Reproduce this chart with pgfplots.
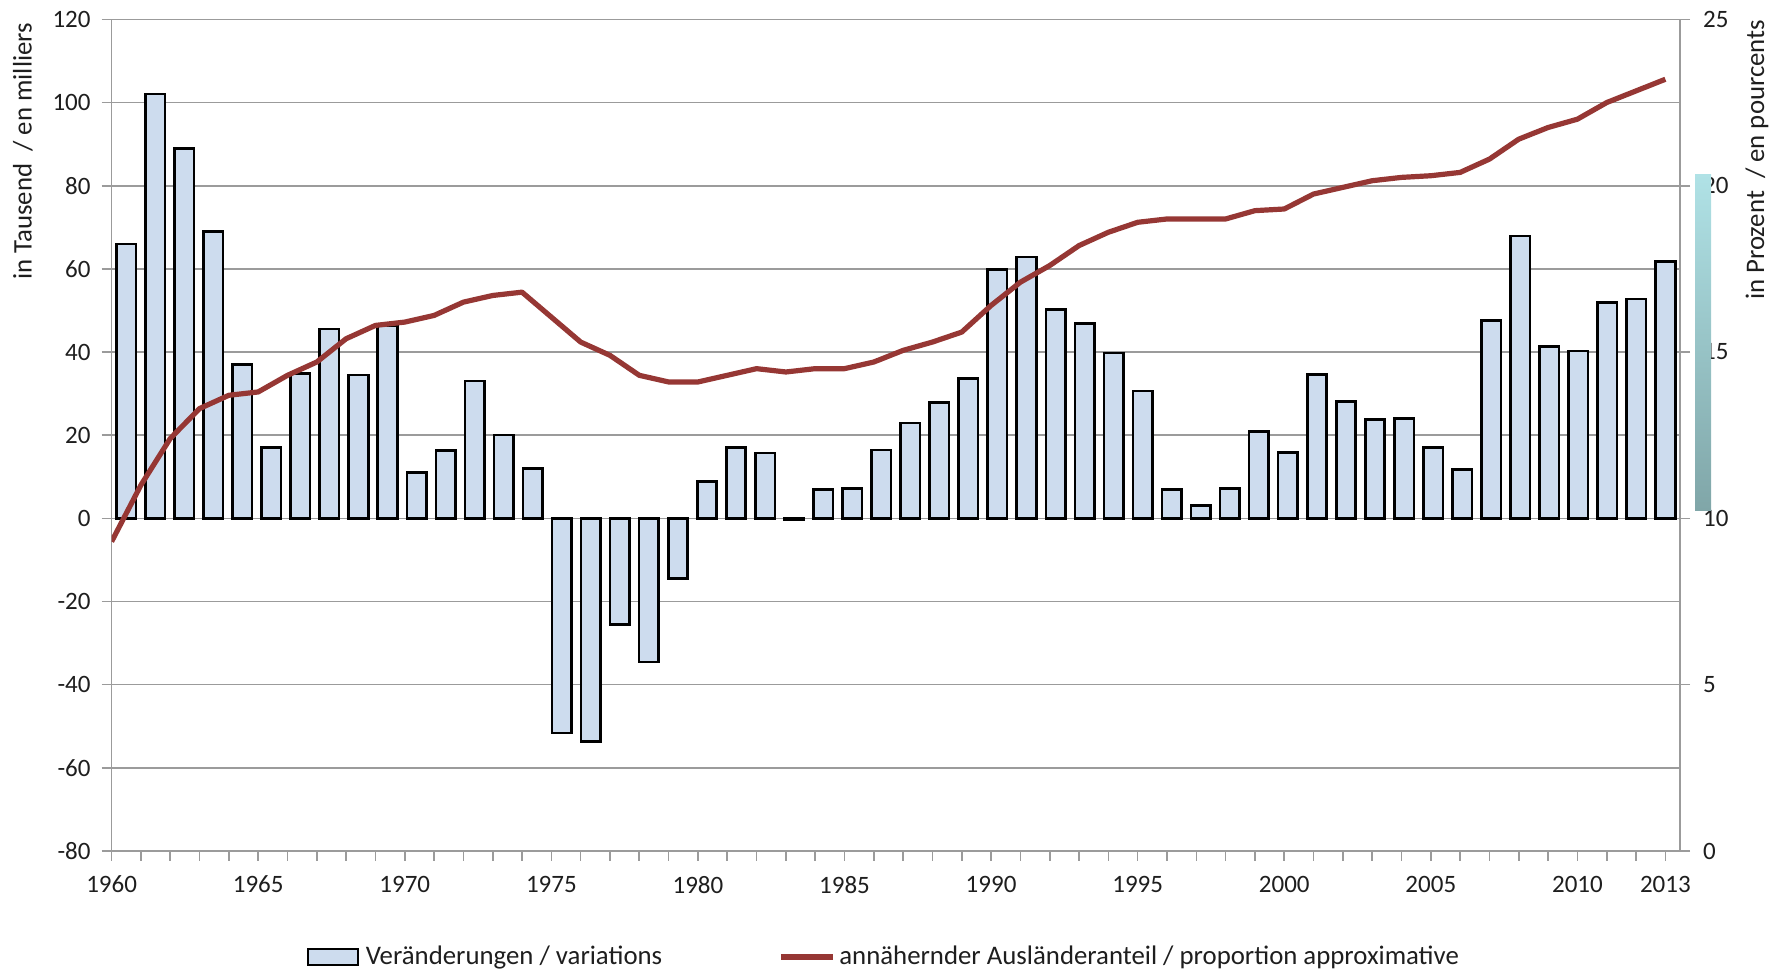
\documentclass[border=0pt]{standalone}
\usepackage{pgfplots}
\usepackage{pgfplotstable}
\pgfplotsset{compat=1.18}
\usepackage{fontspec}
\setmainfont{Carlito}
\definecolor{barfill}{RGB}{205,220,238}
\definecolor{linered}{RGB}{150,55,52}
\definecolor{gridgray}{RGB}{155,155,155}
\definecolor{txt}{RGB}{30,30,30}
\pgfplotsset{
  barleg/.style={legend image code/.code={\draw[fill=barfill, draw=black, line width=1.2pt] (0pt,-4pt) rectangle (25pt,4pt); \path[draw=none, fill=none] (0pt,-0.1pt) rectangle (27pt,0.1pt);}},
  lineleg/.style={legend image code/.code={\draw[linered, line width=2.6pt] (0pt,0pt) -- (26pt,0pt); \path[draw=none, fill=none] (0pt,-0.1pt) rectangle (27pt,0.1pt);}}
}

\pgfplotstableread{
year val
1960 66.0
1961 102.1
1962 89.0
1963 69.0
1964 37.0
1965 17.0
1966 34.8
1967 45.5
1968 34.5
1969 46.4
1970 11.0
1971 16.3
1972 33.0
1973 20.0
1974 12.0
1975 -51.6
1976 -53.7
1977 -25.6
1978 -34.5
1979 -14.4
1980 8.9
1981 17.0
1982 15.7
1983 -0.4
1984 6.9
1985 7.2
1986 16.4
1987 22.9
1988 27.9
1989 33.7
1990 59.8
1991 62.9
1992 50.3
1993 46.8
1994 39.8
1995 30.6
1996 6.9
1997 3.1
1998 7.2
1999 20.9
2000 15.9
2001 34.6
2002 28.1
2003 23.8
2004 24.0
2005 17.0
2006 11.8
2007 47.6
2008 67.9
2009 41.4
2010 40.2
2011 51.9
2012 52.8
2013 61.7
}\bars

\pgfplotstableread{
year pct
1960 9.3
1961 11.0
1962 12.4
1963 13.3
1964 13.7
1965 13.8
1966 14.3
1967 14.7
1968 15.4
1969 15.8
1970 15.9
1971 16.1
1972 16.5
1973 16.7
1974 16.8
1975 16.05
1976 15.3
1977 14.9
1978 14.3
1979 14.1
1980 14.1
1981 14.3
1982 14.5
1983 14.4
1984 14.5
1985 14.5
1986 14.7
1987 15.05
1988 15.3
1989 15.6
1990 16.4
1991 17.1
1992 17.6
1993 18.2
1994 18.6
1995 18.9
1996 19.0
1997 19.0
1998 19.0
1999 19.25
2000 19.3
2001 19.75
2002 19.95
2003 20.15
2004 20.25
2005 20.3
2006 20.4
2007 20.8
2008 21.4
2009 21.75
2010 22.0
2011 22.5
2012 22.85
2013 23.2
}\share

\begin{document}
\begin{tikzpicture}[font=\fontsize{12.5}{15}\selectfont]
\begin{axis}[
  name=ax1,
  scale only axis, width=784.2pt, height=415.8pt,
  xmin=1959.5, xmax=2013.5, ymin=-80, ymax=120,
  ytick={-80,-60,-40,-20,0,20,40,60,80,100,120},
  ymajorgrids, grid style={gridgray, line width=0.8pt},
  axis x line*=bottom, axis y line*=left,
  axis line style={gridgray, line width=0.8pt},
  xtick=\empty,
  tick align=outside, major tick length=5pt,
  tick style={gridgray, line width=0.8pt},
  /pgf/number format/assume math mode=true,
  yticklabel style={text=txt, xshift=-2pt},
  ybar, bar width=0.67,
  legend columns=2,
  legend style={draw=none, fill=none, at={(0.493,-0.1275)}, anchor=center,
    font=\fontsize{13.4}{15}\selectfont, text=txt},
]
\addplot[fill=barfill, draw=black, line width=1.3pt, barleg]
  table[x=year, y=val]{\bars};
\addlegendentry{Veränderungen / variations\hspace*{56pt}}
\addlegendimage{lineleg}
\addlegendentry{annähernder Ausländeranteil / proportion approximative}
\end{axis}

\begin{axis}[
  name=ax2,
  scale only axis, width=784.2pt, height=415.8pt,
  xmin=1960, xmax=2013.5, ymin=0, ymax=25,
  axis y line*=right, axis x line*=bottom,
  x axis line style={draw=none},
  y axis line style={gridgray, line width=0.8pt},
  ytick={0,5,10,15,20,25},
  xtick={1960,1965,1970,1975,1980,1985,1990,1995,2000,2005,2010,2013},
  minor xtick={1960,1961,...,2013},
  tick align=outside, major tick length=5pt, minor tick length=5pt,
  tick style={gridgray, line width=0.8pt},
  /pgf/number format/assume math mode=true,
  /pgf/number format/set thousands separator={},
  xticklabel style={text=txt, yshift=-4pt},
  yticklabel style={text=txt, xshift=3pt},
]
\addplot[linered, line width=2.6pt, line join=round] table[x=year, y=pct]{\share};
\coordinate (tqA) at (axis cs:2013.5,20.35);
\coordinate (tqB) at (axis cs:2013.5,10.25);
\end{axis}

\shade[top color={rgb,255:red,176;green,226;blue,230}, bottom color={rgb,255:red,128;green,166;blue,168}]
  ([xshift=7.5pt]tqA) rectangle ([xshift=15.5pt]tqB);

\node[rotate=90, anchor=east, text=txt, inner sep=0pt, font=\fontsize{13.4}{15}\selectfont] at ([xshift=-44.3pt,yshift=-1.5pt]ax1.north west) {in Tausend\ \ / en milliers};
\node[rotate=90, anchor=east, text=txt, inner sep=0pt, font=\fontsize{13.4}{15}\selectfont] at ([xshift=38.5pt]ax2.north east) {in Prozent\ \ / en pourcents};

\pgfresetboundingbox
\path ([xshift=-55.8pt,yshift=-60.5pt]ax1.south west) rectangle ([xshift=53pt,yshift=9.7pt]ax1.north east);
\end{tikzpicture}
\end{document}
